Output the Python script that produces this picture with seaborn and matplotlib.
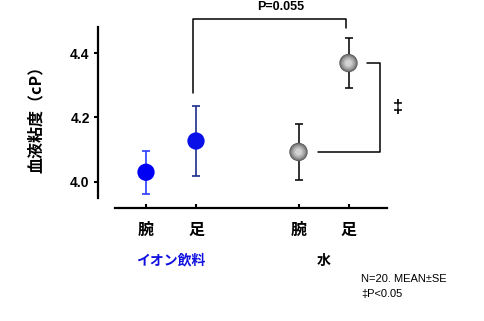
import matplotlib
matplotlib.use("Agg")
import matplotlib.pyplot as plt
import matplotlib.transforms as mtransforms
import seaborn as sns
import pandas as pd
import numpy as np

# ---- data ----
groups = ["イオン飲料", "イオン飲料", "水", "水"]
sites = ["腕", "足", "腕", "足"]
means = [4.03, 4.127, 4.093, 4.369]
se = [0.066, 0.108, 0.088, 0.078]
y_ticks = [4.0, 4.2, 4.4]
p_text = "P=0.055"
sig_mark = "‡"
footnote = ["N=20. MEAN±SE", "‡P<0.05"]
ylabel = "血液粘度（cP）"

sns.set_theme(style="white")
plt.rcParams["font.family"] = ["Liberation Sans", "Noto Sans CJK JP", "DejaVu Sans"]
for k in ["text.color", "axes.labelcolor", "xtick.color", "ytick.color", "axes.edgecolor"]:
    plt.rcParams[k] = "black"
CJK = ["Noto Sans CJK JP", "DejaVu Sans"]
LAT = ["Liberation Sans", "DejaVu Sans"]

# layout positions: within-group index + group offset
group_order = ["イオン飲料", "水"]
pos = []
for g, s in zip(groups, sites):
    pos.append(group_order.index(g) * 3.05 + ["腕", "足"].index(s))
df = pd.DataFrame({"group": groups, "site": sites, "mean": means, "se": se, "pos": pos})

fig = plt.figure(figsize=(4.84, 3.21), dpi=100)
W, H = 484, 321
ax = fig.add_axes([115 / W, 1 - 208 / H, (387 - 115) / W, (208 - 27) / H])
ax.set_xlim(-0.62, 4.82)
ax.set_ylim(3.919, 4.481)

# error bars
err_colors = ["#2a3cff", "#1c2c8c", "#111111", "#111111"]
for i, row in df.iterrows():
    ax.errorbar(row["pos"], row["mean"], yerr=row["se"], fmt="none",
                ecolor=err_colors[i], elinewidth=1.2, capsize=3.2, capthick=1.2, zorder=2)

# blue markers
ion = df[df["group"] == "イオン飲料"]
sns.scatterplot(data=ion, x="pos", y="mean", hue="site", palette=["#0000f5", "#0a10e8"],
                s=155, edgecolor="none", legend=False, ax=ax, zorder=3)

# gray shaded spheres for water
water = df[df["group"] == "水"]
layers = [(175, "#555555"), (150, "#717171"), (118, "#8c8c8c"), (85, "#a3a3a3"),
          (52, "#bababa"), (24, "#d2d2d2")]
for k, (s, c) in enumerate(layers):
    sns.scatterplot(data=water, x="pos", y="mean", s=s, color=c, edgecolor="none",
                    legend=False, ax=ax, zorder=3 + k * 0.1)

# spines and ticks
for sp in ["top", "right"]:
    ax.spines[sp].set_visible(False)
ax.spines["left"].set_position(("outward", 12.2))
ax.spines["left"].set_bounds(3.95, 4.481)
for sp in ["left", "bottom"]:
    ax.spines[sp].set_linewidth(1.6)
    ax.spines[sp].set_color("black")

ax.set_yticks(y_ticks)
ax.set_yticklabels([f"{v:.1f}" for v in y_ticks], fontsize=10, fontweight="bold", family=LAT)
ax.tick_params(axis="y", direction="out", length=3, width=1.5, pad=3, left=True)
ax.set_xticks(df["pos"])
ax.set_xticklabels(df["site"], fontsize=11.5, fontweight="bold", family=CJK)
ax.tick_params(axis="x", direction="in", length=3, width=1.5, pad=10, bottom=True)
ax.set_xlabel("")
ax.set_ylabel(ylabel, fontsize=11.5, fontweight="bold", family=CJK)
ax.yaxis.set_label_coords(-0.262, 0.51)

# group labels
trans = mtransforms.blended_transform_factory(ax.transData, ax.transAxes)
group_colors = {"イオン飲料": "#1010e0", "水": "black"}
for g in group_order:
    xs = df.loc[df["group"] == g, "pos"].mean()
    ax.text(xs, -0.29, g, transform=trans, ha="center", va="center", fontsize=10,
            fontweight="bold", color=group_colors[g], family=CJK)

# P bracket
xl = df["pos"][1] - 0.06
xr = df["pos"][3] - 0.05
ytop = 4.505
ax.plot([xl, xl, xr, xr], [means[1] + se[1] + 0.04, ytop, ytop, means[3] + se[3] + 0.032],
        color="black", lw=1.1, clip_on=False)
ax.text(2.7, 4.543, p_text, ha="center", va="center", fontsize=9, fontweight="bold",
        family=LAT, clip_on=False)

# significance bracket
bx = df["pos"][3] + 0.62
ax.plot([df["pos"][3] + 0.38, bx, bx, df["pos"][2] + 0.38],
        [means[3], means[3], means[2], means[2]], color="black", lw=1.1, clip_on=False)
ax.text(bx + 0.36, (means[2] + means[3]) / 2, sig_mark, ha="center", va="center",
        fontsize=13, fontweight="bold", family=LAT, clip_on=False)

# footnote
for j, t in enumerate(footnote):
    fig.text(361 / W, 1 - (279 + j * 15) / H, t, ha="left", va="center", fontsize=8,
             family=LAT)

fig.savefig("out.png", dpi=100)
